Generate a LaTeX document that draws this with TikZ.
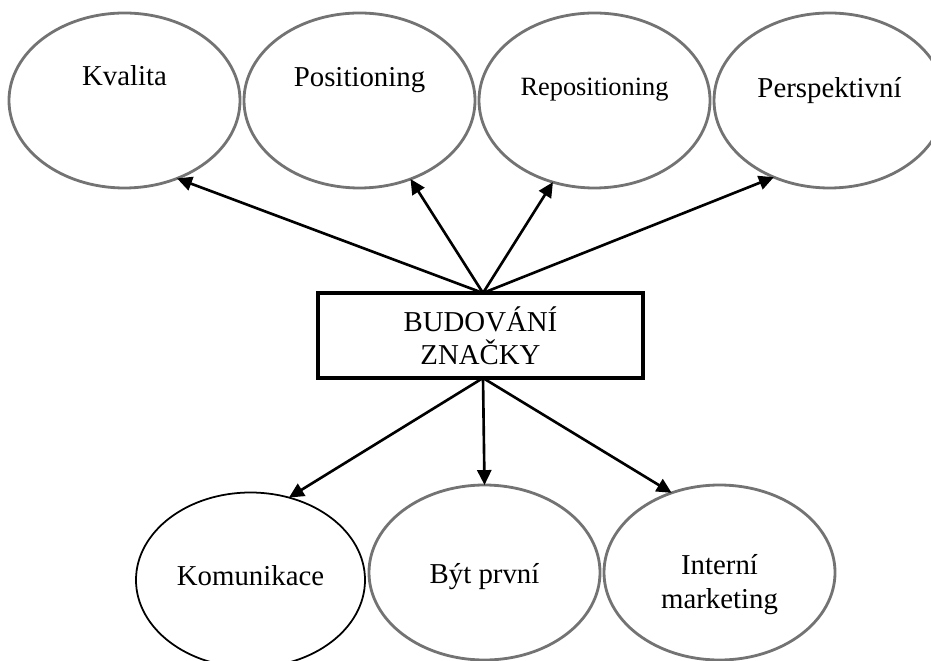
\documentclass[tikz,border=0pt]{standalone}
\usepackage{fontspec}
\setmainfont{Liberation Serif}
\usetikzlibrary{arrows.meta,positioning,shapes.geometric}
\tikzset{
  node distance=0mm,
  >={Triangle[length=8.5pt,width=8pt]},
  every node/.style={outer sep=0mm,inner sep=0mm}
}
\tikzset{bubble/.style={
    ellipse,
    draw=#1,
    line width=1.6pt,
    minimum width=46.2mm,
    minimum height=35mm
  },
  bubble/.default=black!55}
\tikzset{word/.style={
    font=\fontsize{16.4}{19}\selectfont,
    anchor=base,
    align=center
  }}

\begin{document}
\begin{tikzpicture}
  [x=0.2mm,y=-0.2mm,line width=1.5pt]
  \useasboundingbox (0,0) rectangle (931,661);

  \node (Budovani) [draw,line width=2pt,minimum width=65mm,minimum height=17mm,
    font=\fontsize{16.4}{19}\selectfont,align=center] at (480.5,335.5) {BUDOVÁNÍ\\ZNAČKY};

  \node (Kvalita) [bubble] at (124.5,100.5) {};
  \node (Positioning) [bubble,right=0.8mm of Kvalita] {};
  \node (Repositioning) [bubble,right=0.8mm of Positioning] {};
  \node (Perspektivni) [bubble,right=0.8mm of Repositioning] {};

  \node (Kvalita_text) [word] at ([yshift=2.9mm] Kvalita.center) {Kvalita};
  \node (Positioning_text) [word] at ([yshift=2.7mm] Positioning.center) {Positioning};
  \node (Repositioning_text) [word,font=\fontsize{15}{18}\selectfont]
    at ([yshift=0.9mm] Repositioning.center) {Repositioning};
  \node (Perspektivni_text) [word] at ([yshift=0.5mm] Perspektivni.center) {Perspektivní};

  \node (Byt_prvni) [bubble] at (484.5,572.5) {};
  \node (Komunikace) [bubble=black,line width=1pt,minimum width=45.8mm,
    left=0.8mm of Byt_prvni,yshift=-1.5mm] {};
  \node (Interni) [bubble,right=0.8mm of Byt_prvni] {};

  \node (Komunikace_text) [word] at ([yshift=-1mm] Komunikace.center) {Komunikace};
  \node (Byt_prvni_text) [word] at ([yshift=-2.1mm] Byt_prvni.center) {Být první};
  \node (Interni_text) [word,anchor=center] at ([yshift=-2.4mm] Interni.center) {Interní\\marketing};

  \draw [->] ([xshift=0.5mm] Budovani.north) -- (Kvalita.-56);
  \draw [->] ([xshift=0.5mm] Budovani.north) -- (Positioning.-57);
  \draw [->] ([xshift=0.5mm] Budovani.north) -- (Repositioning.-117);
  \draw [->] ([xshift=0.5mm] Budovani.north) -- (Perspektivni.-126);

  \draw [->] ([xshift=0.5mm] Budovani.south) -- (Komunikace.65);
  \draw [->] ([xshift=0.5mm] Budovani.south) -- (Byt_prvni.north);
  \draw [->] ([xshift=0.5mm] Budovani.south) -- (Interni.121);
\end{tikzpicture}
\end{document}
